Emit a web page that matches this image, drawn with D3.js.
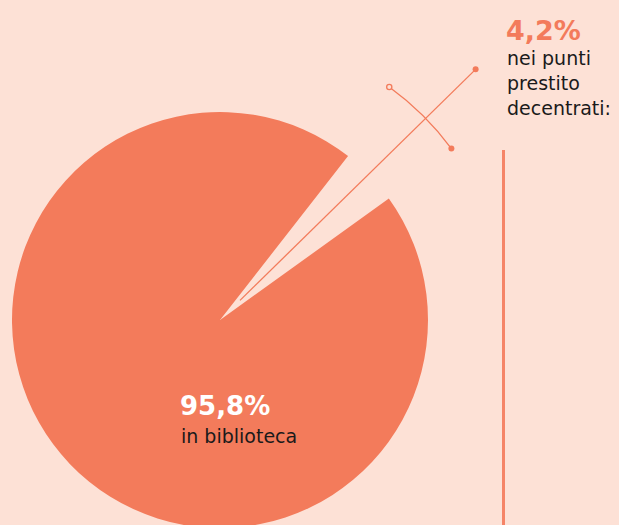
<!DOCTYPE html>
<html>
<head>
<meta charset="utf-8">
<script src="https://cdn.jsdelivr.net/npm/d3@7"></script>
<style>
  html, body { margin: 0; padding: 0; background: #fde1d6; }
  svg { display: block; }
  text { font-family: "DejaVu Sans", "Open Sans", sans-serif; }
</style>
</head>
<body>
<div id="chart"></div>
<script>
const categories = ["nei punti prestito decentrati:", "in biblioteca"];
const shares = [4.2, 95.8];
const shareLabels = ["4,2%", "95,8%"];
const calloutLines = ["nei punti", "prestito", "decentrati:"];

const width = 619;
const height = 525;
const center = { x: 220, y: 320 };
const radius = 208;
const orange = "#f37b5b";
const startDeg = 38;
const gap = 0.02; // a bit of extra space on the cut-out slice

const svg = d3
  .select("#chart")
  .append("svg")
  .attr("width", width)
  .attr("height", height);

svg
  .append("rect")
  .attr("width", width)
  .attr("height", height)
  .attr("fill", "#fde1d6");

const pie = d3
  .pie()
  .sort(null)
  .startAngle((startDeg * Math.PI) / 180)
  .endAngle((startDeg * Math.PI) / 180 + 2 * Math.PI);

const slices = pie(shares);
const small = slices[0];
const big = slices[1];

const g = svg
  .append("g")
  .attr("transform", `translate(${center.x},${center.y})`);

// the big slice only, the small one is left out
const arc = d3.arc().innerRadius(0).outerRadius(radius);
g.append("path")
  .attr("d", arc({ startAngle: big.startAngle + gap, endAngle: big.endAngle }))
  .attr("fill", orange);

// pointer line along the middle of the missing slice
const mid = (small.startAngle + small.endAngle) / 2;
const rLine = d3.scaleLinear().domain([0, 1]).range([28, 358]);
const pt = (a, r) => [Math.sin(a) * r, -Math.cos(a) * r];

const p0 = pt(mid, rLine(0));
const p1 = pt(mid, rLine(1));
g.append("line")
  .attr("x1", p0[0])
  .attr("y1", p0[1])
  .attr("x2", p1[0])
  .attr("y2", p1[1])
  .attr("stroke", orange)
  .attr("stroke-width", 1.3);
g.append("circle")
  .attr("cx", p1[0])
  .attr("cy", p1[1])
  .attr("r", 3)
  .attr("fill", orange);

// arc showing the extent of the small slice
const rExt = 288;
const a0 = small.startAngle - 0.035;
const a1 = small.endAngle + 0.006;
const extArc = d3.arc().innerRadius(rExt).outerRadius(rExt);
g.append("path")
  .attr("d", extArc({ startAngle: a0, endAngle: a1 }))
  .attr("fill", "none")
  .attr("stroke", orange)
  .attr("stroke-width", 1.3);

const e0 = pt(a0, rExt);
const e1 = pt(a1, rExt);
g.append("circle")
  .attr("cx", e0[0])
  .attr("cy", e0[1])
  .attr("r", 2.6)
  .attr("fill", "#fde1d6")
  .attr("stroke", orange)
  .attr("stroke-width", 1.3);
g.append("circle")
  .attr("cx", e1[0])
  .attr("cy", e1[1])
  .attr("r", 3)
  .attr("fill", orange);

// divider
svg
  .append("line")
  .attr("x1", 503.5)
  .attr("x2", 503.5)
  .attr("y1", 150)
  .attr("y2", height)
  .attr("stroke", "#f58467")
  .attr("stroke-width", 3);

// callout text
svg
  .append("text")
  .attr("x", 506)
  .attr("y", 40)
  .attr("font-size", 27)
  .attr("font-weight", 700)
  .attr("fill", orange)
  .text(shareLabels[0]);

svg
  .append("g")
  .selectAll("text")
  .data(calloutLines)
  .join("text")
  .attr("x", 507)
  .attr("y", (d, i) => 65 + i * 25)
  .attr("font-size", 19)
  .attr("fill", "#1a1a1a")
  .text((d) => d);

svg
  .append("text")
  .attr("x", 180)
  .attr("y", 415)
  .attr("font-size", 26)
  .attr("font-weight", 700)
  .attr("fill", "#ffffff")
  .text(shareLabels[1]);

svg
  .append("text")
  .attr("x", 181)
  .attr("y", 443)
  .attr("font-size", 19)
  .attr("fill", "#1a1a1a")
  .text(categories[1]);
</script>
</body>
</html>
